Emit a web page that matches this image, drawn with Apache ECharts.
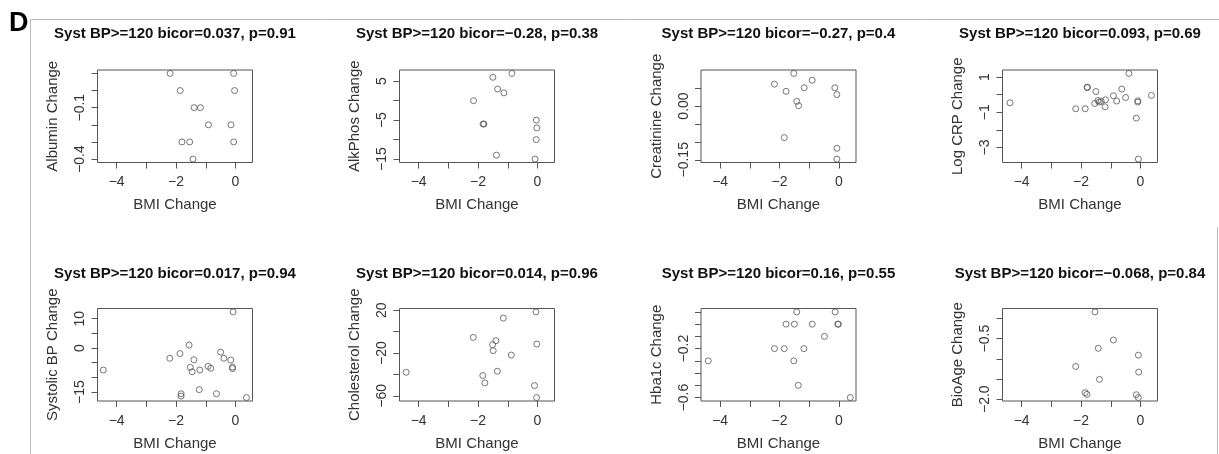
<!DOCTYPE html>
<html>
<head>
<meta charset="utf-8">
<script src="https://cdn.jsdelivr.net/npm/echarts@6/dist/echarts.min.js"></script>
<style>
html, body { margin: 0; padding: 0; background: #fff; }
#main { width: 1219px; height: 454px; }
</style>
</head>
<body>
<div id="main"></div>
<script>
// shared x axis (BMI change)
var bmiTicks = [-4, -3, -2, -1, 0];
var bmiLabels = [-4, -2, 0];
var bmiLimits = [-4.45, 0.38];

// [BMI change, outcome change]
var albumin = [[-2.2, 0.1], [-0.06, 0.1], [-1.86, 0.0], [-0.03, 0.0], [-1.39, -0.1], [-1.18, -0.1],
  [-0.91, -0.2], [-0.15, -0.2], [-1.8, -0.3], [-1.54, -0.3], [-0.06, -0.3], [-1.43, -0.4]];
var albuminTicks = [0.1, 0, -0.1, -0.2, -0.3, -0.4];
var albuminLabels = [-0.1, -0.4];

var alkphos = [[-2.15, 0], [-1.5, 6], [-0.86, 7], [-1.34, 3], [-1.13, 2], [-1.8, -6], [-1.83, -6],
  [-1.38, -14], [-0.04, -5], [-0.02, -7], [-0.04, -10], [-0.08, -15]];
var alkphosTicks = [5, 0, -5, -10, -15];
var alkphosLabels = [5, -5, -15];

var creatinine = [[-2.17, 0.061], [-1.52, 0.091], [-0.9, 0.072], [-1.78, 0.041], [-1.17, 0.051],
  [-1.42, 0.013], [-1.36, 0.001], [-0.14, 0.051], [-0.07, 0.032], [-1.84, -0.088], [-0.07, -0.118],
  [-0.07, -0.148]];
var creatinineTicks = [0.05, 0, -0.05, -0.1, -0.15];
var creatinineLabels = [0, -0.15];

var logCrp = [[-4.39, -0.46], [-2.18, -0.8], [-1.86, -0.8], [-1.79, 0.43], [-1.79, 0.4], [-1.5, 0.18],
  [-1.54, -0.5], [-1.43, -0.33], [-1.39, -0.42], [-1.32, -0.38], [-1.18, -0.29], [-1.19, -0.69],
  [-0.91, -0.06], [-0.8, -0.36], [-0.63, 0.32], [-0.5, -0.16], [-0.39, 1.21], [-0.09, -0.35],
  [-0.09, -0.42], [-0.14, -1.33], [-0.07, -3.66], [0.37, -0.04]];
var logCrpTicks = [1, 0, -1, -2, -3];
var logCrpLabels = [1, -1, -3];

var systolic = [[-4.45, -7.5], [-2.21, -3.5], [-1.87, -1.9], [-1.56, 1.0], [-1.4, -4.0], [-1.52, -6.6],
  [-1.46, -8.1], [-1.2, -7.5], [-0.92, -6.25], [-0.83, -6.9], [-1.22, -14.2], [-1.83, -15.6],
  [-1.83, -16.4], [-0.64, -15.6], [-0.5, -1.4], [-0.39, -3.5], [-0.16, -4.1], [-0.1, -6.5],
  [-0.1, -7.0], [-0.08, 12.3], [0.37, -16.9]];
var systolicTicks = [10, 5, 0, -5, -10, -15];
var systolicLabels = [10, 0, -15];

var cholesterol = [[-4.42, -38], [-2.16, -5.4], [-1.15, 12.6], [-1.4, -8.5], [-1.51, -12.2],
  [-1.49, -17.8], [-0.88, -21.9], [-1.35, -37], [-1.84, -41], [-1.77, -47.9], [-0.05, 18.4],
  [-0.02, -11.6], [-0.1, -50.4], [-0.03, -61.6]];
var cholesterolTicks = [20, 0, -20, -40, -60];
var cholesterolLabels = [20, -20, -60];

var hba1c = [[-4.4, -0.3], [-2.17, -0.2], [-1.84, -0.2], [-1.78, 0.0], [-1.5, 0.0], [-1.42, 0.1],
  [-0.9, 0.0], [-1.18, -0.2], [-1.52, -0.3], [-1.37, -0.5], [-0.49, -0.1], [-0.13, 0.1],
  [-0.04, 0.0], [-0.02, 0.0], [0.38, -0.6]];
var hba1cTicks = [0.1, 0, -0.1, -0.2, -0.3, -0.4, -0.5, -0.6];
var hba1cLabels = [-0.2, -0.6];

var bioAge = [[-1.53, 0.16], [-0.91, -0.535], [-1.42, -0.74], [-0.07, -0.91], [-2.18, -1.19],
  [-0.06, -1.33], [-1.38, -1.51], [-1.86, -1.84], [-1.8, -1.88], [-0.14, -1.89], [-0.07, -1.96]];
var bioAgeTicks = [0, -0.5, -1, -1.5, -2];
var bioAgeLabels = [-0.5, -2];

var panels = [
  { title: 'Syst BP>=120 bicor=0.037, p=0.91', name: 'Albumin Change', data: albumin, ticks: albuminTicks, labels: albuminLabels, dec: 1 },
  { title: 'Syst BP>=120 bicor=\u22120.28, p=0.38', name: 'AlkPhos Change', data: alkphos, ticks: alkphosTicks, labels: alkphosLabels, dec: 0 },
  { title: 'Syst BP>=120 bicor=\u22120.27, p=0.4', name: 'Creatinine Change', data: creatinine, ticks: creatinineTicks, labels: creatinineLabels, dec: 2 },
  { title: 'Syst BP>=120 bicor=0.093, p=0.69', name: 'Log CRP Change', data: logCrp, ticks: logCrpTicks, labels: logCrpLabels, dec: 0 },
  { title: 'Syst BP>=120 bicor=0.017, p=0.94', name: 'Systolic BP Change', data: systolic, ticks: systolicTicks, labels: systolicLabels, dec: 0 },
  { title: 'Syst BP>=120 bicor=0.014, p=0.96', name: 'Cholesterol Change', data: cholesterol, ticks: cholesterolTicks, labels: cholesterolLabels, dec: 0 },
  { title: 'Syst BP>=120 bicor=0.16, p=0.55', name: 'Hba1c Change', data: hba1c, ticks: hba1cTicks, labels: hba1cLabels, dec: 1 },
  { title: 'Syst BP>=120 bicor=\u22120.068, p=0.84', name: 'BioAge Change', data: bioAge, ticks: bioAgeTicks, labels: bioAgeLabels, dec: 1 }
];

var FONT = '"Liberation Sans", Arial, sans-serif';
var colLeft = [97.5, 399.5, 701, 1002.5];
var rowTop = [70, 308.5];
var rowTitle = [33, 273.5];
var boxW = 155, boxH = 92.5;

// R style 4% padding of the data range
function pad(lo, hi) {
  var d = (hi - lo) * 0.04;
  return [lo - d, hi + d];
}
function rNum(v, dec) {
  return v.toFixed(dec).replace('-', '\u2212');
}

var xLim = pad(bmiLimits[0], bmiLimits[1]);
var grids = [], xAxes = [], yAxes = [], series = [], titles = [];

panels.forEach(function (p, i) {
  var col = i % 4, row = Math.floor(i / 4);
  var ys = p.data.map(function (d) { return d[1]; });
  var yLim = pad(Math.min.apply(null, ys), Math.max.apply(null, ys));

  grids.push({
    left: colLeft[col], top: rowTop[row], width: boxW, height: boxH,
    show: true, borderColor: '#555', borderWidth: 1, backgroundColor: 'transparent'
  });
  titles.push({
    text: p.title, left: colLeft[col] + boxW / 2, top: rowTitle[row] - 7,
    textAlign: 'center', padding: 0,
    textStyle: { fontFamily: FONT, fontSize: 15, fontWeight: 'bold', color: '#111' }
  });
  xAxes.push({
    gridIndex: i, type: 'value', min: xLim[0], max: xLim[1],
    name: 'BMI Change', nameLocation: 'middle', nameGap: 35,
    nameTextStyle: { fontFamily: FONT, fontSize: 15, color: '#333' },
    axisLine: { show: false, onZero: false },
    axisTick: { show: true, customValues: bmiTicks, length: 6, lineStyle: { color: '#555' } },
    axisLabel: {
      customValues: bmiLabels, margin: 13, fontFamily: FONT, fontSize: 14, color: '#333',
      formatter: function (v) { return rNum(v, 0); }
    },
    splitLine: { show: false }
  });
  yAxes.push({
    gridIndex: i, type: 'value', min: yLim[0], max: yLim[1],
    name: p.name, nameLocation: 'middle', nameGap: 37,
    nameTextStyle: { fontFamily: FONT, fontSize: 15, color: '#333' },
    axisLine: { show: false, onZero: false },
    axisTick: { show: true, customValues: p.ticks, length: 6, lineStyle: { color: '#555' } },
    axisLabel: {
      customValues: p.labels, rotate: 90, margin: 10, fontFamily: FONT, fontSize: 14, color: '#333',
      formatter: function (v) { return rNum(v, p.dec); }
    },
    splitLine: { show: false }
  });
  series.push({
    type: 'scatter', xAxisIndex: i, yAxisIndex: i, data: p.data,
    symbol: 'circle', symbolSize: 6,
    itemStyle: { color: 'rgba(0,0,0,0)', borderColor: '#555', borderWidth: 1 }
  });
});

var myChart = echarts.init(document.getElementById('main'));
myChart.setOption({
  animation: false,
  backgroundColor: '#fff',
  title: titles,
  grid: grids,
  xAxis: xAxes,
  yAxis: yAxes,
  series: series,
  graphic: [
    { type: 'line', shape: { x1: 30.5, y1: 19.5, x2: 1219, y2: 19.5 }, style: { stroke: '#bbb', lineWidth: 1 } },
    { type: 'line', shape: { x1: 30.5, y1: 19.5, x2: 30.5, y2: 454 }, style: { stroke: '#bbb', lineWidth: 1 } },
    { type: 'line', shape: { x1: 1217.5, y1: 227, x2: 1217.5, y2: 454 }, style: { stroke: '#bbb', lineWidth: 1 } },
    { type: 'text', left: 9, top: 10, style: { text: 'D', fontFamily: FONT, fontSize: 27, fontWeight: 'bold', fill: '#000' } }
  ]
});
</script>
</body>
</html>
